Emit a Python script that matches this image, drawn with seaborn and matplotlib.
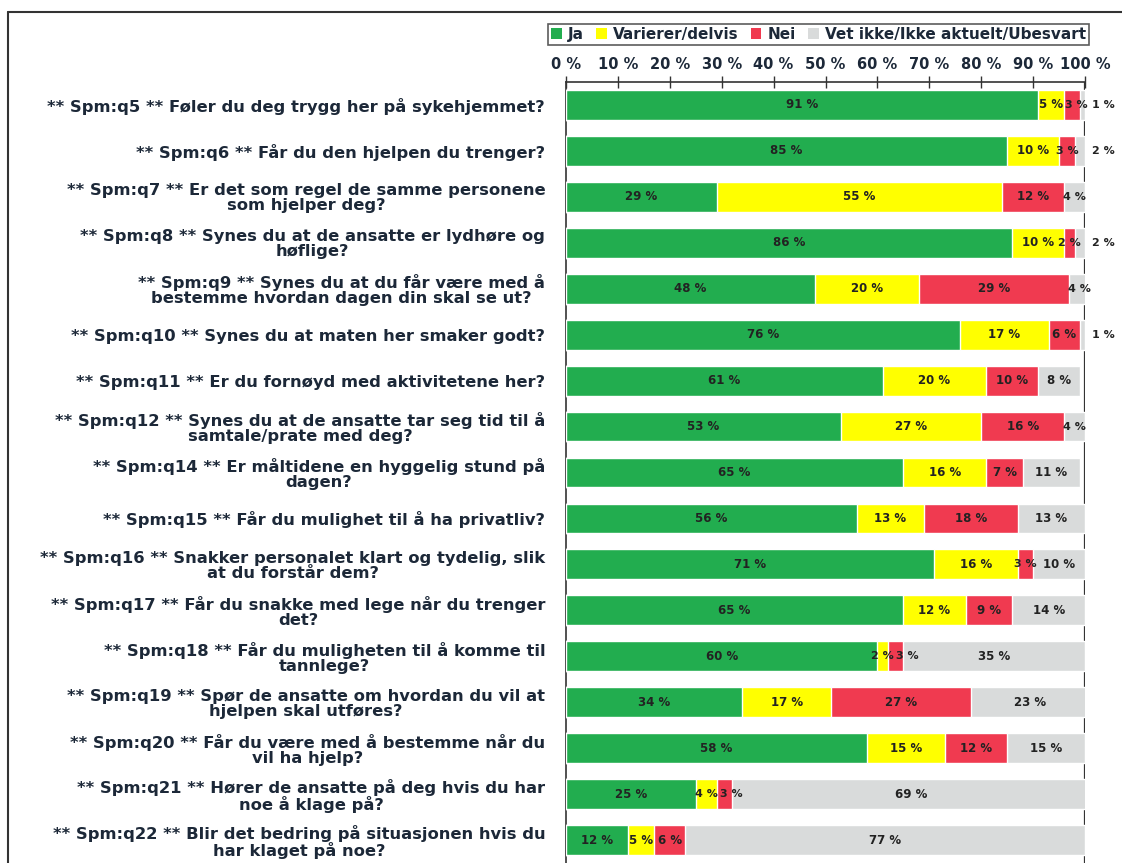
import numpy as np
import pandas as pd
import matplotlib
matplotlib.use("Agg")
import matplotlib.pyplot as plt
import seaborn as sns
from matplotlib.patches import Patch
from matplotlib.lines import Line2D

# Survey questions (rows, top to bottom)
questions = [
    "** Spm:q5 ** Føler du deg trygg her på sykehjemmet?",
    "** Spm:q6 ** Får du den hjelpen du trenger?",
    "** Spm:q7 ** Er det som regel de samme personene\nsom hjelper deg?",
    "** Spm:q8 ** Synes du at de ansatte er lydhøre og\nhøflige?",
    "** Spm:q9 ** Synes du at du får være med å\nbestemme hvordan dagen din skal se ut?",
    "** Spm:q10 ** Synes du at maten her smaker godt?",
    "** Spm:q11 ** Er du fornøyd med aktivitetene her?",
    "** Spm:q12 ** Synes du at de ansatte tar seg tid til å\nsamtale/prate med deg?",
    "** Spm:q14 ** Er måltidene en hyggelig stund på\ndagen?",
    "** Spm:q15 ** Får du mulighet til å ha privatliv?",
    "** Spm:q16 ** Snakker personalet klart og tydelig, slik\nat du forstår dem?",
    "** Spm:q17 ** Får du snakke med lege når du trenger\ndet?",
    "** Spm:q18 ** Får du muligheten til å komme til\ntannlege?",
    "** Spm:q19 ** Spør de ansatte om hvordan du vil at\nhjelpen skal utføres?",
    "** Spm:q20 ** Får du være med å bestemme når du\nvil ha hjelp?",
    "** Spm:q21 ** Hører de ansatte på deg hvis du har\nnoe å klage på?",
    "** Spm:q22 ** Blir det bedring på situasjonen hvis du\nhar klaget på noe?",
]

series_names = ["Ja", "Varierer/delvis", "Nei", "Vet ikke/Ikke aktuelt/Ubesvart"]
ja = [91, 85, 29, 86, 48, 76, 61, 53, 65, 56, 71, 65, 60, 34, 58, 25, 12]
varierer = [5, 10, 55, 10, 20, 17, 20, 27, 16, 13, 16, 12, 2, 17, 15, 4, 5]
nei = [3, 3, 12, 2, 29, 6, 10, 16, 7, 18, 3, 9, 3, 27, 12, 3, 6]
vet_ikke = [1, 2, 4, 2, 4, 1, 8, 4, 11, 13, 10, 14, 35, 23, 15, 69, 77]

tick_vals = list(range(0, 101, 10))
tick_labels = [f"{v} %" for v in tick_vals]

colors = ["#22ad4f", "#ffff00", "#f03a50", "#d9dbdb"]
text_col = "#1c2838"

df = pd.DataFrame({"question": questions, "Ja": ja, "Varierer/delvis": varierer,
                   "Nei": nei, "Vet ikke/Ikke aktuelt/Ubesvart": vet_ikke})
cum = df[series_names].cumsum(axis=1)

sns.set_theme(style="white")
plt.rcParams["font.family"] = ["DejaVu Sans"]

fig = plt.figure(figsize=(11.22, 8.63), dpi=100)
ax = fig.add_axes([566 / 1122, 0.0, (1085 - 566) / 1122, 1 - 82 / 863])

# stacked bars: draw cumulative totals from the back to the front
for i in range(len(series_names) - 1, -1, -1):
    sns.barplot(x=cum[series_names[i]], y=df["question"], color=colors[i],
                orient="h", width=0.65, saturation=1, ax=ax, zorder=3)

ax.axvline(100, color="#333333", lw=1.6, zorder=1)

# value labels (small neighbouring labels are pushed apart a bit)
n = len(questions)
min_gap = 4.8
for r in range(n):
    left = 0
    prev_x = -100
    for i, name in enumerate(series_names):
        v = df[name][r]
        xc = left + v / 2
        if i == 3 and v <= 2:
            xc = 103.5
        elif xc - prev_x < min_gap:
            xc = prev_x + min_gap
        fs = 8.5 if v >= 5 else 8
        ax.text(xc, r, f"{v} %", ha="center", va="center", fontsize=fs,
                fontweight="bold", color="#222222", zorder=5, clip_on=False)
        prev_x = xc
        left += v

ax.set_xlim(0, 100)
ax.set_ylim(n - 0.5, -0.434)
ax.xaxis.tick_top()
ax.set_xticks(tick_vals)
ax.set_xticklabels(tick_labels, fontsize=10.5, fontweight="bold", color=text_col)
ax.tick_params(axis="x", direction="inout", length=9, width=1, color="#333333", pad=3)
ax.set_yticks(range(n))
ax.set_yticklabels(questions, fontsize=11.8, fontweight="bold", color=text_col)
for lab in ax.get_yticklabels():
    lab.set_multialignment("center")
    lab.set_linespacing(1.0)
ax.tick_params(axis="y", which="major", length=0, pad=15)
ax.set_yticks(np.arange(-0.5, n, 1), minor=True)
ax.tick_params(axis="y", which="minor", direction="out", length=5, width=1, color="#333333")
ax.set_xlabel("")
ax.set_ylabel("")
for s in ["bottom", "right"]:
    ax.spines[s].set_visible(False)
for s in ["top", "left"]:
    ax.spines[s].set_color("#333333")
    ax.spines[s].set_linewidth(1.2)

# legend
handles = [Patch(facecolor=c, edgecolor="none") for c in colors]
leg = fig.legend(handles, series_names, loc="upper right", ncol=4,
                 bbox_to_anchor=(1089 / 1122, 1 - 24 / 863), frameon=True,
                 fancybox=False, edgecolor="#333333", fontsize=11,
                 handlelength=0.7, handleheight=0.7, handletextpad=0.4,
                 columnspacing=0.8, borderpad=0.2, borderaxespad=0)
for t in leg.get_texts():
    t.set_fontweight("bold")
    t.set_color(text_col)
leg.get_frame().set_linewidth(1.2)

# outer frame of the chart area (top and left edges)
fig.add_artist(Line2D([8 / 1122, 1.0], [1 - 12 / 863] * 2, color="#333333", lw=1.5))
fig.add_artist(Line2D([8 / 1122] * 2, [0, 1 - 12 / 863], color="#333333", lw=1.5))

fig.savefig("out.png", dpi=100)
